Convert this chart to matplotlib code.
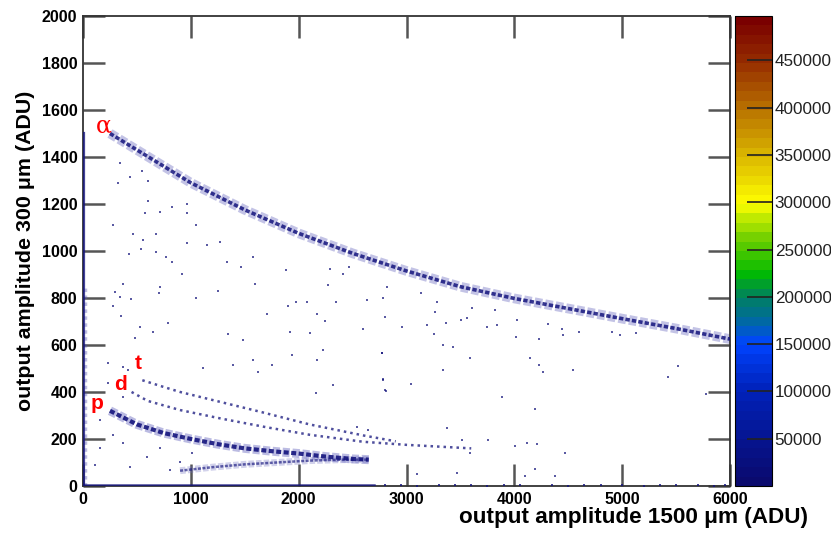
import matplotlib
matplotlib.use("Agg")
import matplotlib.pyplot as plt
from matplotlib.colors import LinearSegmentedColormap, ListedColormap, Normalize
from matplotlib.cm import ScalarMappable
import numpy as np

plt.rcParams['font.family'] = ['Liberation Sans', 'DejaVu Sans']

# band centre lines (x = 1500 um, y = 300 um, ADU)
alpha_x = [250, 500, 1000, 1500, 2000, 2500, 3000, 3500, 4000, 4500, 5000, 5500, 6000]
alpha_y = [1500, 1430, 1290, 1175, 1075, 990, 915, 848, 798, 755, 712, 670, 625]
p_x = [250, 500, 750, 1000, 1250, 1500, 1750, 2000, 2250, 2500, 2650]
p_y = [320, 262, 225, 200, 178, 160, 148, 138, 125, 115, 112]
d_x = [450, 600, 900, 1300, 1700, 2100, 2600, 3000, 3600]
d_y = [400, 362, 323, 285, 250, 218, 188, 175, 160]
t_x = [550, 750, 900, 1200, 1650, 2100, 2600, 2900]
t_y = [450, 421, 400, 366, 315, 262, 215, 190]
punch_x = [900, 1200, 1500, 1800, 2100, 2400, 2650]
punch_y = [65, 80, 92, 100, 108, 112, 112]

# isolated hits
bg_x = [328, 343, 436, 544, 606, 606, 575, 714, 822, 961, 961, 281, 467, 553, 677, 1048,
        961, 1147, 1270, 430, 535, 677, 770, 822, 915, 1332, 1462, 1580, 1595, 1255, 374,
        297, 343, 442, 281, 714, 708, 1048, 350, 529, 646, 791, 1348, 1703, 1904, 1975,
        2074, 2167, 2244, 2346, 1920, 2105, 2275, 2593, 2637, 2785, 2801, 2816, 2955, 1883,
        2291, 2414, 2470, 3131, 3286, 3264, 3187, 3255, 3335, 3428, 3366, 3505, 3558, 3604,
        3749, 3836, 3820, 3341, 3589, 3882, 4015, 4028, 4145, 4231, 4262, 4191, 4231, 4315,
        4439, 4448, 4541, 4603, 4903, 4980, 5128, 5520, 5428, 5777, 4470, 4191, 4099, 4377,
        3094, 3465, 3372, 3511, 3759, 4006, 4114, 4213, 3589, 2770, 2785, 2810, 3042,
        235, 374, 420, 235, 374, 158, 281, 374, 158, 111, 436, 591, 714, 807, 900, 1008,
        482, 1487, 1116, 1394, 1580, 1626, 1749, 1935, 2173, 2229, 2161, 2322, 2770, 2785,
        2801, 2538, 2646]
bg_y = [1288, 1373, 1316, 1342, 1299, 1213, 1163, 1167, 1189, 1200, 1160, 1111, 1072,
        1047, 1072, 1111, 1035, 1026, 1040, 987, 1009, 994, 976, 952, 902, 952, 933, 973,
        860, 831, 860, 827, 806, 795, 767, 848, 820, 799, 723, 675, 657, 695, 647, 732, 767,
        782, 784, 730, 702, 784, 657, 650, 855, 668, 791, 799, 718, 845, 675, 919, 922, 902,
        933, 820, 784, 742, 685, 647, 600, 590, 695, 706, 713, 756, 675, 685, 749, 494, 543,
        377, 633, 706, 543, 515, 484, 326, 626, 689, 667, 643, 494, 657, 657, 643, 652, 510,
        463, 391, 142, 71, 43, 43, 51, 54, 245, 196, 196, 171, 184, 177, 142, 564, 454, 406,
        434, 522, 508, 494, 437, 380, 281, 217, 182, 160, 89, 82, 125, 160, 68, 103, 139,
        628, 621, 501, 515, 536, 486, 515, 557, 536, 579, 397, 430, 564, 451, 409, 252, 238]

# hits sitting on the x axis (pedestal of the 300 um detector)
floor_x = [2800, 2950, 3100, 3300, 3450, 3600, 3750, 3900, 4050, 4350, 4500, 4650, 4800,
           5000, 5200, 5350, 5500, 5700, 5850, 5950]
floor_y = [3, 5, 2, 6, 3, 4, 2, 5, 3, 4, 2, 6, 3, 4, 2, 5, 3, 4, 2, 5]

zmax = 497000
cbar_ticks = [50000, 100000, 150000, 200000, 250000, 300000, 350000, 400000, 450000]

navy = '#14147d'
anchors = [(0.0, '#0a0a6e'), (0.2, '#0022bb'), (0.3, '#0044ff'), (0.34, '#0066aa'),
           (0.4, '#008060'), (0.45, '#00bb00'), (0.52, '#66cc00'), (0.58, '#ccee00'),
           (0.6, '#ffff00'), (0.7, '#ddbb00'), (0.8, '#bb7700'), (0.9, '#993300'),
           (1.0, '#7a0000')]
smooth = LinearSegmentedColormap.from_list('rootrainbow', anchors)
cmap = ListedColormap(smooth(np.linspace(0, 1, 50)))

fig = plt.figure(figsize=(8.31, 5.38), dpi=100)
ax = fig.add_axes([0.0999, 0.0967, 0.7786, 0.8736])
cax = fig.add_axes([0.8845, 0.0967, 0.0445, 0.8736])

# bands
for bx, by, wide, core, a1, a2 in [(alpha_x, alpha_y, 7, 2.6, 0.4, 0.85),
                                   (p_x, p_y, 6.5, 3.0, 0.45, 0.9),
                                   (punch_x, punch_y, 5, 1.8, 0.3, 0.65)]:
    ax.plot(bx, by, color='#6a6ac0', lw=wide, alpha=a1, ls=(0, (0.8, 0.3)),
            zorder=2)
    ax.plot(bx, by, color=navy, lw=core, alpha=a2, ls=(0, (1.2, 0.6)), zorder=3)
for bx, by in [(d_x, d_y), (t_x, t_y)]:
    ax.plot(bx, by, color=navy, lw=1.8, alpha=0.75, ls=(0, (1.0, 1.6)), zorder=3)

ax.scatter(bg_x, bg_y, s=3, marker='s', color=navy, alpha=0.7, lw=0, zorder=3)
ax.scatter(floor_x, floor_y, s=3, marker='s', color=navy, alpha=0.8, lw=0, zorder=3)
# detector edges
ax.plot([5, 5], [0, 1500], color=navy, lw=1.6, alpha=0.8, zorder=3)
ax.plot([18, 18], [0, 850], color='#5a5ab0', lw=2.5, alpha=0.4, ls=(0, (1, 1)), zorder=2)
ax.plot([0, 2700], [4, 4], color=navy, lw=1.8, alpha=0.8, zorder=3)

ax.set_xlim(0, 6000)
ax.set_ylim(0, 2000)
ax.set_xticks(range(0, 6001, 1000))
ax.set_yticks(range(0, 2001, 200))
ax.tick_params(direction='in', length=16, width=1.8, color='#555555', top=True, right=True,
               labelsize=11.5, pad=4)
for lab in ax.get_xticklabels() + ax.get_yticklabels():
    lab.set_fontweight('bold')
for sp in ax.spines.values():
    sp.set_linewidth(1.3)
    sp.set_color('#333333')

ax.set_ylabel('output amplitude 300 μm (ADU)', fontsize=15.4, fontweight='bold', labelpad=5)
ax.set_xlabel('output amplitude 1500 μm (ADU)', fontsize=16.2, fontweight='bold')
ax.xaxis.set_label_coords(1.12, -0.045)
ax.xaxis.label.set_horizontalalignment('right')
ax.xaxis.label.set_verticalalignment('top')

ax.text(195, 1532, 'α', color='red', fontsize=17, ha='center', va='center',
        family='DejaVu Serif')
ax.text(130, 349, 'p', color='red', fontsize=15, fontweight='bold', ha='center', va='center')
ax.text(343, 430, 'd', color='red', fontsize=15, fontweight='bold', ha='center', va='center')
ax.text(510, 523, 't', color='red', fontsize=15, fontweight='bold', ha='center', va='center')

sm = ScalarMappable(norm=Normalize(0, zmax), cmap=cmap)
cb = fig.colorbar(sm, cax=cax, ticks=cbar_ticks)
cb.outline.set_linewidth(0.8)
cb.ax.tick_params(direction='in', length=18, width=1.2, color='#222222', labelsize=12.3, pad=2)
cb.ax.set_yticklabels([str(t) for t in cbar_ticks], color='#222222')

fig.savefig('out.png', dpi=100)
